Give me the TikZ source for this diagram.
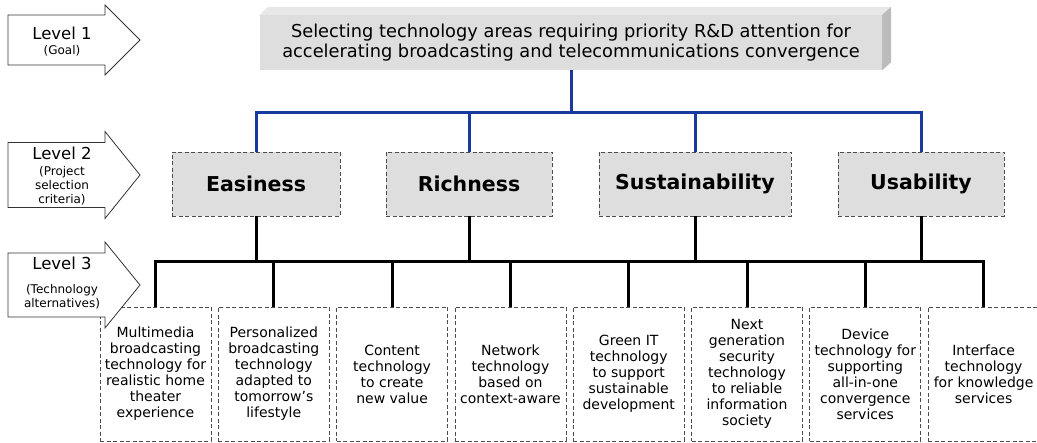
\documentclass[tikz,border=0pt]{standalone}
\usepackage{fontspec}
\setmainfont{DejaVu Sans}
\usepackage{tikz}
\usetikzlibrary{calc,positioning}
\definecolor{barblue}{RGB}{24,58,160}
\definecolor{boxgray}{RGB}{222,222,222}
\definecolor{topgray}{RGB}{232,232,232}
\definecolor{sidegray}{RGB}{188,188,188}

% level marker: centre height, half body, half head
\newcommand{\levelarrow}[3]{%
  \draw[levelshape] (8,#1-#2) -- (105,#1-#2) -- (105,#1-#3) -- (140,#1)
    -- (105,#1+#3) -- (105,#1+#2) -- (8,#1+#2) -- cycle;
}

\begin{document}
\begin{tikzpicture}[x=1pt, y=-1pt,
    levelshape/.style={draw=black!80, line width=0.8pt, fill=white},
    leveltext/.style={font=\fontsize{16.5}{19}\selectfont, inner sep=0pt},
    levelsub/.style={font=\fontsize{12}{14}\selectfont, align=center, inner sep=0pt},
    goalbox/.style={fill=boxgray, minimum width=622pt, minimum height=55pt,
                    align=center, inner sep=0pt, font=\fontsize{17.8}{19.5}\selectfont},
    critbox/.style={draw=black!70, dash pattern=on 4pt off 2.5pt, fill=boxgray,
                    line width=0.7pt, minimum height=64pt, inner sep=0pt,
                    font=\fontsize{20.5}{22}\selectfont\bfseries},
    techbox/.style={draw=black!70, dash pattern=on 4pt off 2.5pt, line width=0.7pt,
                    minimum width=111pt, minimum height=134pt, align=center,
                    inner sep=0pt, font=\fontsize{14}{16}\selectfont},
    blueline/.style={draw=barblue, line width=3pt},
    blackline/.style={draw=black, line width=3pt},
  ]
  \useasboundingbox (0,0) rectangle (1037,443);

  % goal block with its raised edges
  \node[goalbox] (goal) at (571,42.5)
    {Selecting technology areas requiring priority R\&D attention for\\
     accelerating broadcasting and telecommunications convergence};
  \fill[topgray] (goal.north west) -- ++(8,-8) -- ($(goal.north east)+(9,-8)$)
    -- (goal.north east) -- cycle;
  \fill[sidegray] (goal.north east) -- ++(9,-8) -- ($(goal.south east)+(9,-8)$)
    -- (goal.south east) -- cycle;

  % criteria
  \node[critbox, minimum width=168pt] (easy) at (256,184) {Easiness};
  \node[critbox, minimum width=166pt] (rich) at (469,184) {Richness};
  \node[critbox, minimum width=192pt] (sust) at (695,184) {Sustainability};
  \node[critbox, minimum width=166pt] (use)  at (921,184) {Usability};

  % alternatives
  \foreach \i/\txt in {
      1/{Multimedia\\broadcasting\\technology for\\realistic home\\theater\\experience},
      2/{Personalized\\broadcasting\\technology\\adapted to\\tomorrow’s\\lifestyle},
      3/{Content\\technology\\to create\\new value},
      4/{Network\\technology\\based on\\context-aware},
      5/{Green IT\\technology\\to support\\sustainable\\development},
      6/{Next\\generation\\security\\technology\\to reliable\\information\\society},
      7/{Device\\technology for\\supporting\\all-in-one\\convergence\\services},
      8/{Interface\\technology\\for knowledge\\services}}
    \node[techbox] (t\i) at ({155.5+118.3*(\i-1)},374) {\txt};

  \coordinate (bluebus) at (0,113);
  \coordinate (blackbus) at (0,262);

  % goal to criteria
  \draw[blueline] (goal.south) -- (goal.south |- bluebus);
  \draw[blueline] (easy.north) -- (easy.north |- bluebus) -- (use.north |- bluebus) -- (use.north);
  \foreach \c in {rich,sust}
    \draw[blueline] (\c.north) -- (\c.north |- bluebus);

  % criteria to alternatives
  \draw[blackline] (t1.north) -- (t1.north |- blackbus) -- (t8.north |- blackbus) -- (t8.north);
  \foreach \i in {2,...,7}
    \draw[blackline] (t\i.north) -- (t\i.north |- blackbus);
  \foreach \c in {easy,rich,sust,use}
    \draw[blackline] (\c.south) -- (\c.south |- blackbus);

  % level markers
  \levelarrow{40}{25}{35}
  \levelarrow{175}{32.5}{43.5}
  \levelarrow{285}{32}{43}
  \node[leveltext] (lv1) at (62,33) {Level 1};
  \node[levelsub] (lv1sub) at (62,51) {(Goal)};
  \node[leveltext] (lv2) at (62,153) {Level 2};
  \node[levelsub] (lv2sub) at (62,186) {(Project\\selection\\criteria)};
  \node[leveltext] (lv3) at (62,263) {Level 3};
  \node[levelsub] (lv3sub) at (62,296.5) {(Technology\\alternatives)};
\end{tikzpicture}
\end{document}
